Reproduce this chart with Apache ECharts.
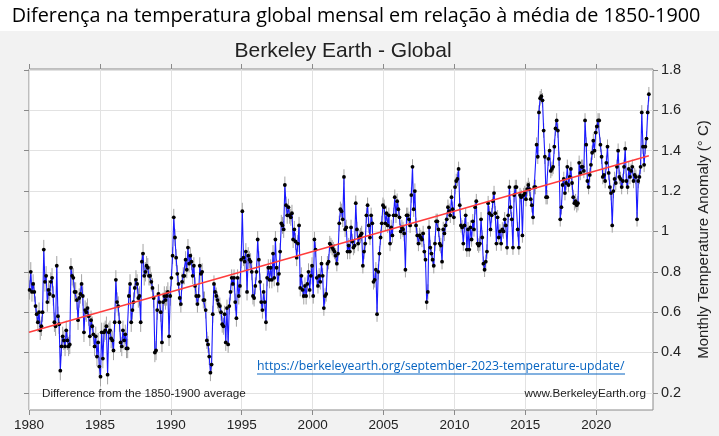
<!DOCTYPE html>
<html>
<head>
<meta charset="utf-8">
<script src="https://cdn.jsdelivr.net/npm/echarts@6/dist/echarts.min.js"></script>
<style>
html, body { margin: 0; padding: 0; background: #fff; }
#main { width: 719px; height: 436px; }
</style>
</head>
<body>
<div id="main"></div>
<script>
// monthly anomaly vs 1850-1900 (deg C), Jan..Dec per row
var startYear = 1980;
var anom1980s = [
  0.71, 0.80, 0.70, 0.74, 0.70, 0.63, 0.59, 0.55, 0.60, 0.51, 0.53, 0.60, // 1980
  0.91, 0.75, 0.78, 0.65, 0.71, 0.69, 0.75, 0.77, 0.68, 0.55, 0.53, 0.83, // 1981
  0.58, 0.54, 0.31, 0.43, 0.48, 0.46, 0.43, 0.51, 0.46, 0.43, 0.44, 0.82, // 1982
  0.78, 0.77, 0.70, 0.70, 0.66, 0.56, 0.67, 0.69, 0.74, 0.68, 0.50, 0.61, // 1983
  0.60, 0.62, 0.58, 0.48, 0.56, 0.53, 0.49, 0.43, 0.48, 0.38, 0.45, 0.33, // 1984
  0.28, 0.50, 0.37, 0.50, 0.51, 0.53, 0.29, 0.50, 0.51, 0.47, 0.46, 0.41, // 1985
  0.55, 0.76, 0.65, 0.63, 0.55, 0.45, 0.43, 0.51, 0.46, 0.49, 0.42, 0.42, // 1986
  0.68, 0.74, 0.55, 0.61, 0.65, 0.72, 0.76, 0.74, 0.67, 0.68, 0.55, 0.85, // 1987
  0.89, 0.78, 0.80, 0.83, 0.82, 0.78, 0.78, 0.75, 0.72, 0.67, 0.40, 0.41, // 1988
  0.61, 0.69, 0.65, 0.60, 0.45, 0.65, 0.68, 0.66, 0.68, 0.70, 0.48, 0.68  // 1989
];
var anom1990s = [
  0.77, 0.88, 1.07, 0.97, 0.87, 0.79, 0.74, 0.67, 0.64, 0.75, 0.78, 0.78, // 1990
  0.86, 0.81, 0.92, 0.84, 0.88, 0.85, 0.78, 0.83, 0.73, 0.68, 0.64, 0.68, // 1991
  0.83, 0.79, 0.80, 0.66, 0.66, 0.61, 0.46, 0.44, 0.38, 0.30, 0.34, 0.59, // 1992
  0.74, 0.70, 0.68, 0.66, 0.64, 0.63, 0.60, 0.54, 0.53, 0.59, 0.45, 0.62, // 1993
  0.44, 0.63, 0.70, 0.77, 0.74, 0.77, 0.65, 0.57, 0.77, 0.68, 0.73, 0.86, // 1994
  1.10, 0.87, 0.85, 0.90, 0.70, 0.88, 0.86, 0.85, 0.80, 0.68, 0.67, 0.73, // 1995
  0.80, 0.96, 0.86, 0.75, 0.65, 0.61, 0.70, 0.65, 0.55, 0.77, 0.82, 0.76, // 1996
  0.82, 0.76, 0.89, 0.77, 0.96, 0.82, 0.74, 0.79, 0.90, 1.04, 1.03, 1.01, // 1997
  1.23, 1.13, 1.08, 1.12, 1.08, 1.07, 1.09, 0.96, 1.01, 0.95, 0.87, 0.94, // 1998
  1.03, 0.72, 0.78, 0.71, 0.68, 0.73, 0.68, 0.74, 0.80, 0.71, 0.78, 0.83  // 1999
];
var anom2000s = [
  0.68, 0.96, 0.91, 0.77, 0.73, 0.78, 0.75, 0.84, 0.78, 0.62, 0.68, 0.69, // 2000
  0.84, 0.85, 0.94, 0.93, 0.92, 0.91, 0.90, 0.88, 0.84, 0.89, 1.04, 1.11, // 2001
  1.10, 1.06, 1.27, 1.01, 1.02, 0.90, 0.93, 0.90, 1.02, 0.95, 0.92, 0.93, // 2002
  1.14, 1.01, 0.94, 0.97, 0.98, 0.99, 0.83, 0.90, 0.94, 1.08, 1.13, 1.03, // 2003
  0.97, 1.08, 1.04, 0.75, 0.76, 0.81, 0.59, 0.80, 0.89, 0.97, 1.04, 1.13, // 2004
  1.12, 1.04, 1.09, 1.03, 1.08, 0.94, 1.02, 0.98, 1.08, 1.17, 1.08, 1.15, // 2005
  1.11, 1.07, 1.00, 1.02, 1.01, 0.99, 0.81, 1.08, 1.08, 1.06, 1.03, 1.18, // 2006
  1.32, 1.11, 1.20, 1.03, 0.98, 0.94, 0.98, 0.97, 0.96, 0.99, 0.90, 0.86, // 2007
  0.65, 0.70, 1.02, 0.92, 0.89, 0.86, 0.83, 0.94, 1.05, 1.05, 1.01, 0.94, // 2008
  0.93, 0.85, 1.01, 0.99, 1.03, 1.06, 1.12, 1.10, 1.08, 1.17, 1.11, 1.07  // 2009
];
var anom2010s = [
  1.22, 1.25, 1.26, 1.31, 1.13, 1.03, 1.02, 0.94, 1.03, 1.08, 0.91, 1.01, // 2010
  0.91, 1.02, 0.96, 1.05, 1.01, 1.12, 1.15, 0.94, 0.93, 0.94, 1.06, 0.97, // 2011
  0.84, 0.81, 0.85, 0.90, 1.14, 1.09, 1.01, 1.08, 1.15, 1.19, 1.09, 0.94, // 2012
  1.07, 0.97, 1.00, 0.94, 1.01, 1.00, 1.06, 1.03, 0.92, 1.08, 1.22, 1.12, // 2013
  1.06, 0.92, 1.18, 1.22, 1.22, 1.01, 0.92, 1.18, 1.17, 0.98, 1.18, 1.19, // 2014
  1.16, 1.21, 1.23, 1.21, 1.16, 1.13, 1.07, 1.22, 1.22, 1.43, 1.37, 1.59, // 2015
  1.66, 1.67, 1.65, 1.50, 1.37, 1.17, 1.17, 1.36, 1.40, 1.30, 1.31, 1.32, // 2016
  1.42, 1.51, 1.55, 1.50, 1.36, 1.06, 1.12, 1.23, 1.26, 1.19, 1.24, 1.32, // 2017
  1.23, 1.27, 1.31, 1.24, 1.17, 1.14, 1.15, 1.13, 1.14, 1.34, 1.29, 1.32, // 2018
  1.32, 1.30, 1.55, 1.43, 1.25, 1.22, 1.28, 1.33, 1.39, 1.45, 1.40, 1.49  // 2019
];
var anom2020s = [
  1.52, 1.55, 1.55, 1.43, 1.37, 1.27, 1.28, 1.25, 1.34, 1.42, 1.29, 1.22, // 2020
  1.19, 1.03, 1.20, 1.26, 1.24, 1.32, 1.40, 1.27, 1.26, 1.22, 1.25, 1.32, // 2021
  1.41, 1.25, 1.22, 1.31, 1.27, 1.30, 1.32, 1.25, 1.28, 1.27, 1.06, 1.25, // 2022
  1.27, 1.32, 1.59, 1.42, 1.33, 1.42, 1.46, 1.59, 1.68                    // 2023 (to Sep)
];
// half length of the grey uncertainty bars, per decade
var uncertaintyByDecade = [0.048, 0.042, 0.038, 0.036, 0.036];
// red linear trend, end points
var trendYears = [1980, 2023.71];
var trendValues = [0.50, 1.375];
// axis ticks
var yearTicks = [1980, 1985, 1990, 1995, 2000, 2005, 2010, 2015, 2020];
var tempTicks = [0.2, 0.4, 0.6, 0.8, 1, 1.2, 1.4, 1.6, 1.8];

var monthly = [].concat(anom1980s, anom1990s, anom2000s, anom2010s, anom2020s);
var points = [];
var bars = [];
for (var i = 0; i < monthly.length; i++) {
    var t = startYear + (i + 0.5) / 12;
    var u = uncertaintyByDecade[Math.floor(i / 120)];
    points.push([t, monthly[i]]);
    bars.push([t, monthly[i] - u, monthly[i] + u]);
}
var trendData = [[trendYears[0], trendValues[0]], [trendYears[1], trendValues[1]]];

var myChart = echarts.init(document.getElementById('main'));
var gridColor = '#e2e2e2';
var frameColor = '#8a8a8a';
var arial = '"Liberation Sans", Arial, sans-serif';

var option = {
    backgroundColor: '#f2f2f2',
    animation: false,
    grid: {
        left: 29, top: 69, width: 633, height: 341,
        show: true,
        backgroundColor: '#fff',
        borderColor: frameColor,
        borderWidth: 1
    },
    xAxis: [{
        type: 'value',
        min: 1980,
        max: 2024,
        axisLine: { show: false },
        axisTick: { show: true, customValues: yearTicks, length: 5, lineStyle: { color: frameColor } },
        axisLabel: {
            customValues: yearTicks, fontSize: 13.5, color: '#222', margin: 8, fontFamily: arial,
            formatter: function (value) { return String(value); }
        },
        splitLine: { show: true, lineStyle: { color: gridColor } }
    }, {
        type: 'value',
        position: 'top',
        min: 1980,
        max: 2024,
        axisLine: { show: false },
        axisTick: { show: true, customValues: yearTicks, length: 5, lineStyle: { color: frameColor } },
        axisLabel: { show: false },
        splitLine: { show: false }
    }],
    yAxis: [{
        type: 'value',
        position: 'right',
        min: 0.115,
        max: 1.805,
        name: 'Monthly Temperature Anomaly (° C)',
        nameLocation: 'middle',
        nameRotate: 90,
        nameGap: 43,
        nameTextStyle: { fontSize: 15, color: '#222', fontFamily: arial },
        axisLine: { show: false },
        axisTick: { show: true, customValues: tempTicks, length: 5, lineStyle: { color: frameColor } },
        axisLabel: { customValues: tempTicks, fontSize: 14.5, color: '#222', margin: 8, fontFamily: arial },
        splitLine: { show: true, lineStyle: { color: gridColor } }
    }, {
        type: 'value',
        position: 'left',
        min: 0.115,
        max: 1.805,
        axisLine: { show: false },
        axisTick: { show: true, customValues: tempTicks, length: 5, lineStyle: { color: frameColor } },
        axisLabel: { show: false },
        splitLine: { show: false }
    }],
    graphic: [
        { type: 'rect', left: 0, top: 0, shape: { width: 719, height: 31 }, style: { fill: '#fff' }, z: -10 },
        { type: 'text', x: 356, y: 16, style: { text: 'Diferença na temperatura global mensal em relação à média de 1850-1900', align: 'center', verticalAlign: 'middle', font: '19.8px "Open Sans", sans-serif', fill: '#000' } },
        { type: 'text', x: 343, y: 51, style: { text: 'Berkeley Earth - Global', align: 'center', verticalAlign: 'middle', font: '21px "Liberation Sans", Arial, sans-serif', fill: '#222' } },
        { type: 'text', x: 42, y: 394, z: 10, style: { text: 'Difference from the 1850-1900 average', align: 'left', verticalAlign: 'middle', font: '11.7px "Liberation Sans", Arial, sans-serif', fill: '#222' } },
        { type: 'text', x: 646, y: 394, z: 10, style: { text: 'www.BerkeleyEarth.org', align: 'right', verticalAlign: 'middle', font: '11.7px "Liberation Sans", Arial, sans-serif', fill: '#222' } },
        { type: 'text', x: 257, y: 367, z: 10, style: { text: 'https://berkeleyearth.org/september-2023-temperature-update/', align: 'left', verticalAlign: 'middle', font: '12.25px "Open Sans", sans-serif', fill: '#0563c1' } },
        { type: 'line', z: 10, shape: { x1: 257, y1: 374, x2: 625, y2: 374 }, style: { stroke: '#0563c1', lineWidth: 1 } }
    ],
    series: [{
        name: 'uncertainty',
        type: 'custom',
        data: bars,
        encode: { x: 0, y: [1, 2] },
        silent: true,
        z: 1,
        renderItem: function (params, api) {
            var hi = api.coord([api.value(0), api.value(2)]);
            var lo = api.coord([api.value(0), api.value(1)]);
            return {
                type: 'line',
                shape: { x1: hi[0], y1: hi[1], x2: lo[0], y2: lo[1] },
                style: { stroke: '#a3a3a3', lineWidth: 1 }
            };
        }
    }, {
        name: 'monthly',
        type: 'line',
        data: points,
        symbol: 'circle',
        symbolSize: 3.8,
        showAllSymbol: true,
        itemStyle: { color: '#000' },
        lineStyle: { color: '#1a1aff', width: 1.1 },
        z: 3
    }, {
        name: 'trend',
        type: 'line',
        data: trendData,
        symbol: 'none',
        lineStyle: { color: '#ff3c3c', width: 1.5 },
        z: 4
    }]
};
myChart.setOption(option);
</script>
</body>
</html>
